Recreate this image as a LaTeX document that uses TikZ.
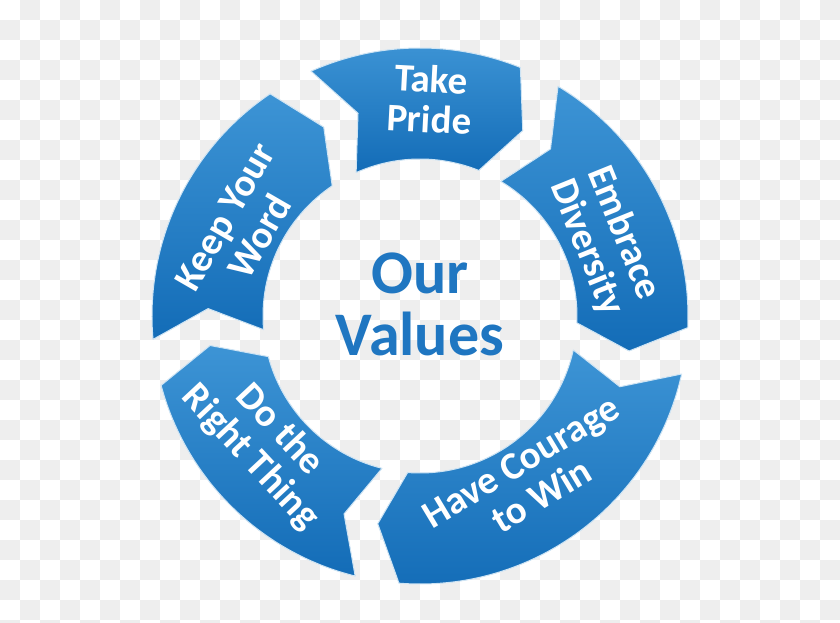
\documentclass[tikz,border=0pt]{standalone}
\usepackage{fontspec}
\setmainfont{Carlito}
\usetikzlibrary{positioning}
\definecolor{valblue}{HTML}{1F76C1}
\definecolor{segtop}{HTML}{3D94D5}
\definecolor{segbot}{HTML}{136CB7}
\definecolor{checker}{HTML}{EEEEEE}
\tikzset{
	seg/.style={top color=segtop, bottom color=segbot, draw=white!75!segtop,
		line width=1pt, line join=round},
	seg label/.style={text=white, font=\bfseries\fontsize{39}{40}\selectfont,
		align=center, inner sep=0pt},
	big label/.style={text=valblue, font=\bfseries\fontsize{62}{62}\selectfont,
		align=center, inner sep=0pt},
	outer r/.store in=\outr, outer r=268,
	inner r/.store in=\innr, inner r=157,
	mid r/.store in=\midr, mid r=212,
	seg tip/.store in=\tipd, seg tip=7
}

\begin{document}
\begin{tikzpicture}[x=1pt,y=1pt]
	\useasboundingbox (-420,-307) rectangle (420,316);
	\clip (-420,-307) rectangle (420,316);
	% checkered background
	\foreach \i in {0,...,41} \foreach \j in {0,...,31} {
		\pgfmathtruncatemacro\odd{mod(\i+\j,2)}
		\ifnum\odd=1 \fill[checker] ({20*\i-420},{316-20*\j}) rectangle ++(20,-20); \fi
	}
	% the five arrow segments, tail angle / head angle
	\foreach \s/\e in {114/68, 59/-2.5, -12.5/-94.5, -104/-165, -175/-236} {
		\path[seg] (\s:\outr) arc[start angle=\s, end angle=\e, radius=\outr]
			-- ({\e-\tipd}:\midr) -- (\e:\innr)
			arc[start angle=\e, end angle=\s, radius=\innr]
			-- ({\s-\tipd}:\midr) -- cycle;
	}
	\node[seg label, rotate=-3] (take) at (87.3:217) {Take\\Pride};
	\node[seg label, rotate=-68] (embrace) at (22.2:200) {Embrace\\Diversity};
	\node[seg label, rotate=31] (courage) at (-55.6:197) {Have Courage\\to Win};
	\node[seg label, rotate=-47] (thing) at (219.5:201) {Do the\\Right Thing};
	\node[seg label, rotate=60] (word) at (153.3:199) {Keep Your\\Word};
	\node[big label] (values) at (0,12) {Our\\Values};
\end{tikzpicture}
\end{document}
